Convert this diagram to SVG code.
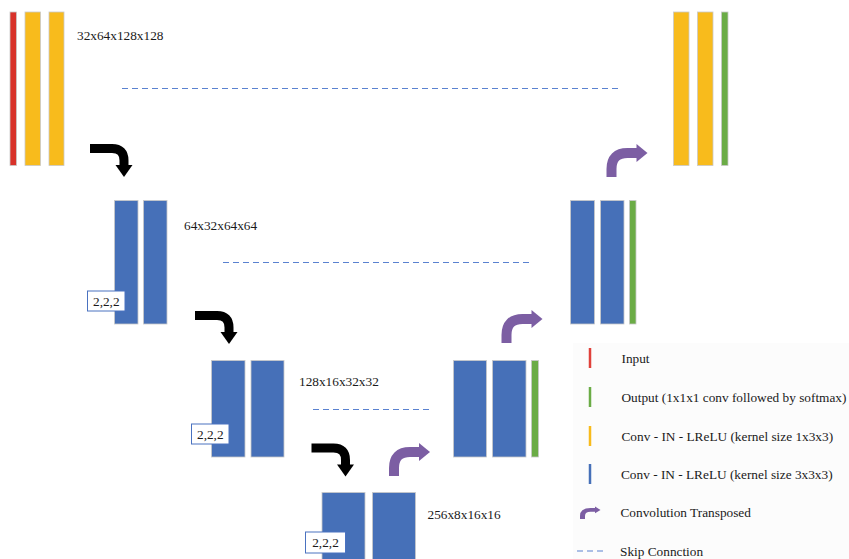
<svg xmlns="http://www.w3.org/2000/svg" width="849" height="559" viewBox="0 0 849 559">
<style>
text{font-family:"Liberation Serif","Times New Roman",serif;font-size:13.3px;fill:#1a1a1a}
.red{fill:#d8322a;stroke:#c9c9c9;stroke-width:0.8}
.yel{fill:#f8bb1c;stroke:#c9c9c9;stroke-width:0.8}
.blu{fill:#4670b8;stroke:#c9c9c9;stroke-width:0.8}
.grn{fill:#6bac46;stroke:#c9c9c9;stroke-width:0.8}
.skip{stroke:#5a82d0;stroke-width:1.2;stroke-dasharray:6,4;fill:none}
.box{fill:#fff;stroke:#4a72c0;stroke-width:1}
</style>
<defs>
<g id="down">
<path d="M0,4.5 H22 Q34,4.5 34,16.5 V22" fill="none" stroke="#000" stroke-width="9"/>
<polygon points="25.5,21 42.5,21 34,33" fill="#000"/>
</g>
<g id="up">
<path d="M5,0 V-8 Q5,-24 21,-24 H31" fill="none" stroke="#7c5ea3" stroke-width="10"/>
<polygon points="30,-33 30,-15 41,-24" fill="#7c5ea3"/>
</g>
</defs>
<rect width="849" height="559" fill="#fff"/>
<rect x="573" y="343" width="276" height="216" fill="#fcfcfc"/>

<g id="enc1">
<rect class="red" x="10" y="12" width="6.5" height="153.5"/>
<rect class="yel" x="25" y="12" width="15.5" height="153.5"/>
<rect class="yel" x="49" y="12" width="15" height="153.5"/>
<text x="77" y="40">32x64x128x128</text>
</g>
<g id="enc2">
<rect class="blu" x="114.5" y="200.5" width="23.5" height="123.5"/>
<rect class="blu" x="143.5" y="200.5" width="23.5" height="123.5"/>
<text x="184" y="230">64x32x64x64</text>
<rect class="box" x="87.5" y="291" width="37.5" height="20"/>
<text x="106.3" y="305.5" text-anchor="middle">2,2,2</text>
</g>
<g id="enc3">
<rect class="blu" x="211.5" y="360.5" width="33.5" height="96.5"/>
<rect class="blu" x="251" y="360.5" width="33" height="96.5"/>
<text x="299" y="386">128x16x32x32</text>
<rect class="box" x="191.5" y="424" width="37.5" height="20"/>
<text x="210.3" y="438.5" text-anchor="middle">2,2,2</text>
</g>
<g id="enc4">
<rect class="blu" x="322" y="492.5" width="43" height="70"/>
<rect class="blu" x="372.5" y="492.5" width="43" height="70"/>
<text x="427.5" y="519">256x8x16x16</text>
<rect class="box" x="305.5" y="532" width="40" height="21"/>
<text x="325.5" y="547" text-anchor="middle">2,2,2</text>
</g>
<g id="dec3">
<rect class="blu" x="453.5" y="360.5" width="33" height="96.5"/>
<rect class="blu" x="492.5" y="360.5" width="33.5" height="96.5"/>
<rect class="grn" x="531.5" y="360.5" width="7" height="96.5"/>
</g>
<g id="dec2">
<rect class="blu" x="570.5" y="200.5" width="24" height="123.5"/>
<rect class="blu" x="600.5" y="200.5" width="23.5" height="123.5"/>
<rect class="grn" x="629.5" y="200.5" width="6.5" height="123.5"/>
</g>
<g id="dec1">
<rect class="yel" x="673.5" y="12" width="15.5" height="153.5"/>
<rect class="yel" x="697.5" y="12" width="15.5" height="153.5"/>
<rect class="grn" x="721.5" y="12" width="6.5" height="153.5"/>
</g>

<g id="connectors">
<line class="skip" x1="122" y1="88.5" x2="620" y2="88.5"/>
<line class="skip" x1="223" y1="262.5" x2="530" y2="262.5"/>
<line class="skip" x1="313" y1="409.5" x2="430" y2="409.5"/>
<use href="#down" x="90" y="144"/>
<use href="#down" x="195" y="311"/>
<use href="#down" x="311.5" y="443.5"/>
<use href="#up" x="389" y="476"/>
<use href="#up" x="501.5" y="343"/>
<use href="#up" x="606.5" y="177"/>
</g>

<g id="legend">
<line x1="590" y1="348" x2="590" y2="368" stroke="#e0413b" stroke-width="2.5"/>
<text x="621.5" y="362.5">Input</text>
<line x1="590" y1="387" x2="590" y2="407" stroke="#6bac46" stroke-width="2.5"/>
<text x="621.5" y="401.5">Output (1x1x1 conv followed by softmax)</text>
<line x1="590" y1="426" x2="590" y2="446" stroke="#f8bb1c" stroke-width="2.5"/>
<text x="621.5" y="440.5">Conv - IN - LReLU (kernel size 1x3x3)</text>
<line x1="590" y1="464" x2="590" y2="484" stroke="#4670b8" stroke-width="2.5"/>
<text x="621" y="479">Conv - IN - LReLU (kernel size 3x3x3)</text>
<use href="#up" transform="translate(580,519) scale(0.5,0.38)"/>
<text x="620.5" y="516.5">Convolution Transposed</text>
<line class="skip" x1="577" y1="551" x2="603" y2="551"/>
<text x="620" y="556">Skip Connction</text>
</g>
</svg>
